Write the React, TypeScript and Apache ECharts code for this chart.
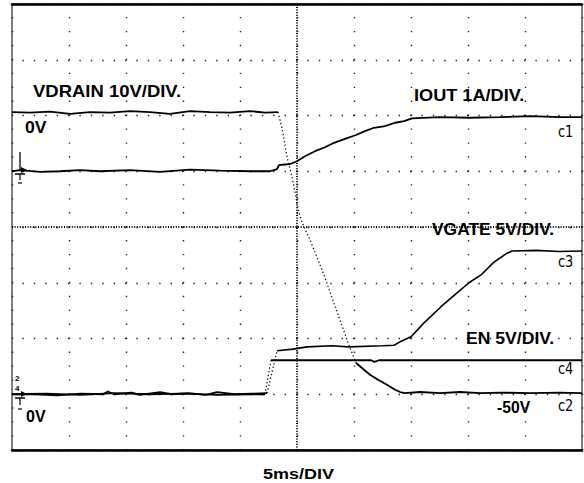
import React, { useEffect, useRef } from "react";
import * as echarts from "echarts";

// Time axis: 10 divisions × 5 ms; vertical: 8 divisions (0 = bottom of screen)
const TIME_MAX_MS = 50;
const TIME_DIV_MS = 5;
const V_DIVS = 8;

// c1 – IOUT 1A/DIV (ms, div)
const ioutTrace: [number, number][] = [
  [0, 5.0], [0.7, 5.02], [2.46, 4.99], [4.21, 5.0], [5.96, 5.02], [7.72, 5.0], [10.35, 5.02],
  [12.98, 4.99], [15.61, 5.03], [18.25, 5.01], [20.88, 5.0], [22.63, 5.0], [23.25, 5.04],
  [23.42, 5.11], [24.39, 5.13], [25.0, 5.18], [25.7, 5.27], [26.58, 5.36], [27.46, 5.43],
  [28.25, 5.51], [29.21, 5.58], [30.18, 5.65], [30.96, 5.72], [31.75, 5.78], [32.72, 5.81],
  [33.6, 5.87], [34.39, 5.9], [35.09, 5.95], [37.54, 5.97], [40.18, 5.96], [42.81, 5.97],
  [45.44, 5.99], [48.07, 5.97], [50, 5.97],
];

// c2 – VDRAIN 10V/DIV
const vdrainHigh: [number, number][] = [
  [0, 6.06], [1.58, 6.05], [3.33, 6.07], [5.09, 6.03], [6.84, 6.06], [8.6, 6.05], [10.35, 6.08],
  [12.11, 6.06], [13.86, 6.03], [15.61, 6.08], [17.37, 6.06], [19.12, 6.05], [20.88, 6.08],
  [22.19, 6.05], [23.33, 6.06],
];
const vdrainFall: [number, number][] = [
  [23.33, 6.06], [23.51, 5.92], [23.77, 5.69], [23.95, 5.47], [24.12, 5.26], [24.3, 5.11],
  [24.56, 4.9], [24.74, 4.72], [24.91, 4.54], [25.09, 4.31], [25.35, 4.14], [25.7, 3.96],
  [26.14, 3.77], [26.67, 3.5], [27.37, 3.14], [28.07, 2.73], [28.77, 2.33], [29.56, 1.88],
  [30.18, 1.56],
];
const vdrainLow: [number, number][] = [
  [30.18, 1.56], [30.7, 1.47], [31.4, 1.35], [32.11, 1.26], [32.89, 1.17], [33.6, 1.08],
  [34.04, 1.04], [34.47, 1.02], [35.79, 1.04], [37.54, 1.02], [39.3, 1.04], [41.05, 1.02],
  [42.81, 1.03], [45.44, 1.02], [48.07, 1.03], [50, 1.02],
];

// c3 – VGATE 5V/DIV
const vgateFlat: [number, number][] = [
  [0, 1.0], [2.0, 1.0], [4.0, 0.98], [6.0, 1.01], [8.0, 1.0], [8.4, 1.05], [9.0, 1.0],
  [10.5, 1.03], [11.2, 0.99], [13.0, 1.04], [14.0, 1.0], [15.5, 1.02], [17.0, 0.99],
  [18.0, 1.04], [19.5, 1.0], [21.0, 1.01], [22.37, 1.02],
];
const vgateStep: [number, number][] = [[22.37, 1.02], [23.25, 1.78]];
const vgateRamp: [number, number][] = [
  [23.25, 1.78], [24.65, 1.81], [25.88, 1.85], [28.07, 1.87], [29.5, 1.85], [32.54, 1.87],
  [33.51, 1.88], [34.04, 1.94], [35.0, 2.03], [36.14, 2.28], [37.63, 2.57], [39.04, 2.82],
  [40.09, 3.0], [41.14, 3.14], [42.28, 3.37], [43.42, 3.53], [43.86, 3.57], [46, 3.58],
  [48, 3.56], [50, 3.57],
];

// c4 – EN 5V/DIV
const enLow: [number, number][] = [
  [0, 1.0], [3, 1.01], [6, 0.99], [9, 1.02], [12, 1.0], [15, 1.01], [18, 0.99], [21, 1.0],
  [22.19, 1.0],
];
const enStep: [number, number][] = [[22.19, 1.0], [22.72, 1.61]];
const enHigh: [number, number][] = [
  [22.72, 1.61], [30, 1.61], [31.5, 1.61], [31.8, 1.58], [32.2, 1.61], [40, 1.61], [50, 1.61],
];

const BOLD = '"Liberation Sans", Arial, Helvetica, sans-serif';
const NARROW = '"Liberation Sans Narrow", "DejaVu Sans Condensed", "Liberation Sans", sans-serif';

export default function App() {
  const ref = useRef<HTMLDivElement>(null);
  useEffect(() => {
    document.body.style.margin = "0";
    const chart = echarts.init(ref.current!, null, { renderer: "svg" });

    const solid = { color: "#000", width: 1.8 };
    const dotted = { color: "#111", width: 1.3, type: [1.3, 2.4] as any };
    const mk = (name: string, data: [number, number][], ls: any) => ({
      name,
      type: "line",
      data,
      showSymbol: false,
      symbol: "none",
      silent: true,
      lineStyle: ls,
      z: 5,
    });

    const boldText = (text: string, x: number, y: number, size = 16, sx = 1.1) => ({
      type: "text",
      x,
      y,
      scaleX: sx,
      silent: true,
      z: 10,
      style: {
        text,
        fill: "#000",
        font: `bold ${size}px ${BOLD}`,
        textVerticalAlign: "middle",
        verticalAlign: "middle",
        textAlign: "left",
      },
    });
    const chText = (text: string, x: number, y: number) => ({
      type: "text",
      x,
      y,
      scaleX: 0.9,
      silent: true,
      z: 10,
      style: {
        text,
        fill: "#000",
        font: `16px ${NARROW}`,
        textVerticalAlign: "middle",
        verticalAlign: "middle",
        textAlign: "left",
      },
    });
    const tiny = (text: string, x: number, y: number) => ({
      type: "text",
      x,
      y,
      silent: true,
      z: 10,
      style: {
        text,
        fill: "#000",
        font: `bold 8px ${BOLD}`,
        textVerticalAlign: "middle",
        verticalAlign: "middle",
        textAlign: "left",
      },
    });
    const ln = (x1: number, y1: number, x2: number, y2: number, w = 1.2) => ({
      type: "line",
      silent: true,
      z: 10,
      shape: { x1, y1, x2, y2 },
      style: { stroke: "#000", lineWidth: w },
    });

    chart.setOption({
      animation: false,
      backgroundColor: "#fff",
      grid: {
        left: 12,
        right: 2,
        top: 4,
        bottom: 33,
        show: true,
        borderColor: "#000",
        borderWidth: 1,
      },
      xAxis: [
        {
          type: "value",
          min: 0,
          max: TIME_MAX_MS,
          interval: TIME_DIV_MS,
          axisLabel: { show: false },
          axisTick: { show: false },
          axisLine: { show: true, onZero: false, lineStyle: { color: "#000", width: 2.5 } },
          splitLine: {
            show: true,
            lineStyle: { color: "#222", width: 1.4, type: [1.4, 12.54], dashOffset: 0.7 },
          },
        },
        {
          type: "value",
          position: "top",
          min: 0,
          max: TIME_MAX_MS,
          interval: TIME_DIV_MS,
          axisLabel: { show: false },
          axisTick: { show: false },
          axisLine: { show: true, onZero: false, lineStyle: { color: "#000", width: 2.5 } },
          splitLine: { show: false },
        },
      ],
      yAxis: {
        type: "value",
        min: 0,
        max: V_DIVS,
        interval: 1,
        axisLabel: { show: false },
        axisTick: { show: false },
        axisLine: { show: false },
        splitLine: {
          show: true,
          lineStyle: { color: "#222", width: 1.4, type: [1.4, 10.0], dashOffset: 0.7 },
        },
      },
      series: [
        {
          type: "line",
          data: [],
          silent: true,
          markLine: {
            silent: true,
            symbol: "none",
            label: { show: false },
            lineStyle: { color: "#000", width: 2, type: [1, 1.6] },
            data: [{ xAxis: TIME_MAX_MS / 2 }, { yAxis: V_DIVS / 2 }],
          },
        },
        mk("IOUT", ioutTrace, solid),
        mk("VDRAIN", vdrainHigh, solid),
        mk("VDRAIN fall", vdrainFall, dotted),
        mk("VDRAIN low", vdrainLow, solid),
        mk("VGATE", vgateFlat, solid),
        mk("VGATE step", vgateStep, dotted),
        mk("VGATE ramp", vgateRamp, { color: "#000", width: 1.6 }),
        mk("EN", enLow, solid),
        mk("EN step", enStep, dotted),
        mk("EN high", enHigh, solid),
      ],
      graphic: [
        boldText("VDRAIN 10V/DIV.", 33, 91, 16.5, 1.12),
        boldText("0V", 25, 128, 16, 1.1),
        boldText("IOUT 1A/DIV.", 414, 95, 16.5, 1.1),
        boldText("VGATE 5V/DIV.", 432, 230, 16, 1.09),
        boldText("EN 5V/DIV.", 466, 339, 16, 1.1),
        boldText("-50V", 497, 407, 16, 0.98),
        boldText("0V", 26, 416, 16, 1.0),
        boldText("5ms/DIV", 263, 474, 15, 1.2),
        chText("c1", 558, 132),
        chText("c3", 558, 262),
        chText("c4", 558, 369),
        chText("c2", 558, 406),
        // channel 1 ground marker
        ln(20, 152, 20, 170, 1.3),
        { type: "polygon", silent: true, z: 10, shape: { points: [[21, 167], [27, 170], [21, 173]] }, style: { fill: "#000" } },
        ln(15, 174, 25, 174, 1.5),
        ln(20, 174, 20, 180, 1.2),
        ln(18, 183, 22, 183, 1.2),
        // channel 2/4 marker
        tiny("2", 15, 378),
        tiny("4", 15, 388),
        { type: "polygon", silent: true, z: 10, shape: { points: [[21, 391], [27, 394], [21, 397]] }, style: { fill: "#000" } },
        ln(15, 398, 25, 398, 1.5),
        ln(20, 398, 20, 405, 1.2),
        ln(18, 409, 22, 409, 1.2),
      ],
    });
    return () => chart.dispose();
  }, []);
  return (
    <div
      ref={ref}
      style={{ position: "absolute", left: 0, top: 0, width: 584, height: 483, background: "#fff" }}
    />
  );
}
